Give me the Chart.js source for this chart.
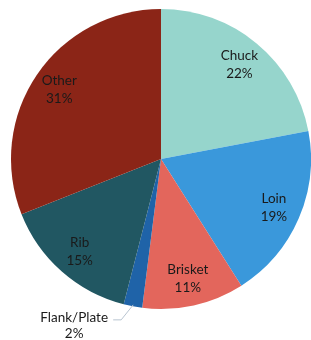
<!DOCTYPE html>
<html><head><meta charset="utf-8">
<script src="https://cdn.jsdelivr.net/npm/chart.js@4"></script>
<style>html,body{margin:0;padding:0;background:#fff;}canvas{display:block;}</style>
</head><body>
<canvas id="c" width="311" height="340"></canvas>
<script>
const categories = ["Chuck", "Loin", "Brisket", "Flank/Plate", "Rib", "Other"];
const shares = [22, 19, 11, 2, 15, 31];
const percentLabels = ["22%", "19%", "11%", "2%", "15%", "31%"];
const colors = ["#96D5CC", "#3A98DB", "#E3665C", "#1F63A8", "#215762", "#8B2517"];

const labelPlugin = {
  id: 'sliceLabels',
  afterDatasetsDraw(chart) {
    const ctx = chart.ctx;
    const meta = chart.getDatasetMeta(0);
    ctx.save();
    ctx.font = '13.5px Lato, "Open Sans", sans-serif';
    ctx.fillStyle = '#1a1a1a';
    ctx.textAlign = 'center';
    ctx.textBaseline = 'middle';
    meta.data.forEach((arc, i) => {
      const p = arc.getProps(['x','y','startAngle','endAngle','outerRadius'], true);
      const mid = (p.startAngle + p.endAngle) / 2;
      if (categories[i] === 'Flank/Plate') {
        const ex = p.x + Math.cos(mid) * p.outerRadius * 0.99;
        const ey = p.y + Math.sin(mid) * p.outerRadius * 0.99;
        ctx.strokeStyle = '#b8c4d0';
        ctx.lineWidth = 1;
        ctx.beginPath();
        ctx.moveTo(ex, ey);
        ctx.lineTo(ex - 12, ey + 15);
        ctx.lineTo(ex - 20, ey + 15);
        ctx.stroke();
        const tx = ex - 59, ty = ey + 13;
        ctx.fillText(categories[i], tx, ty);
        ctx.fillText(percentLabels[i], tx, ty + 16);
        return;
      }
      const r = p.outerRadius * 0.82;
      const cx = p.x + Math.cos(mid) * r;
      const cy = p.y + Math.sin(mid) * r;
      ctx.fillText(categories[i], cx, cy - 9);
      ctx.fillText(percentLabels[i], cx, cy + 9);
    });
    ctx.restore();
  }
};

new Chart(document.getElementById('c'), {
  type: 'pie',
  data: {
    labels: categories,
    datasets: [{ data: shares, backgroundColor: colors, borderWidth: 0 }]
  },
  options: {
    responsive: false,
    animation: false,
    layout: { padding: { top: 9, bottom: 31, left: 11, right: 0 } },
    plugins: { legend: { display: false }, tooltip: { enabled: false } }
  },
  plugins: [labelPlugin]
});
</script>
</body></html>
